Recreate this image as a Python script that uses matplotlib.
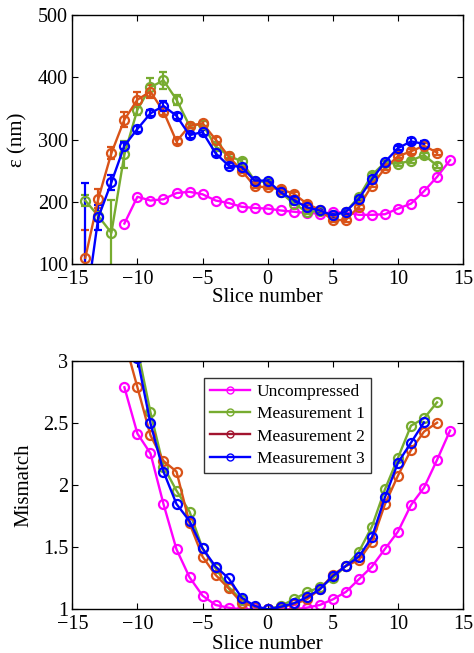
import matplotlib
matplotlib.use("Agg")
import matplotlib.pyplot as plt
from matplotlib.lines import Line2D

plt.rcParams['font.family'] = ['Liberation Serif', 'DejaVu Serif']
plt.rcParams['axes.unicode_minus'] = True

# ---- emittance per slice ----
x_unc = list(range(-11, 15))
eps_unc = [165, 208, 202, 204, 214, 216, 212, 202, 198, 192, 190, 189, 186, 184,
           182, 181, 183, 183, 179, 179, 180, 189, 197, 217, 240, 267]

x_m1 = list(range(-14, 14))
eps_m1 = [202, 177, 150, 276, 348, 384, 395, 364, 322, 325, 289, 274, 265, 234,
          231, 215, 197, 184, 185, 178, 184, 208, 243, 263, 261, 266, 275, 258]
err_m1 = [9, 8, 53, 21, 9, 15, 14, 8, 4, 4, 4, 4, 4, 3,
          3, 3, 3, 3, 3, 3, 3, 3, 3, 3, 3, 3, 4, 4]

x_m2 = list(range(-14, 14))
eps_m2 = [110, 205, 278, 332, 364, 377, 345, 297, 322, 326, 300, 273, 250, 225,
          223, 220, 213, 197, 187, 170, 171, 192, 226, 254, 273, 281, 290, 279]
err_m2 = [45, 15, 10, 12, 12, 10, 6, 5, 4, 4, 4, 4, 4, 3,
          3, 3, 3, 3, 3, 3, 3, 3, 3, 3, 3, 4, 4, 4]

x_m3 = list(range(-14, 13))
eps_m3 = [25, 175, 231, 290, 317, 342, 354, 338, 307, 312, 278, 258, 256, 234,
          234, 215, 203, 191, 186, 178, 184, 205, 236, 264, 286, 297, 293]
err_m3 = [205, 20, 12, 6, 5, 5, 8, 5, 4, 4, 4, 4, 4, 3,
          3, 3, 3, 3, 3, 3, 3, 3, 3, 3, 3, 5, 5]

# ---- mismatch per slice ----
mx_unc = list(range(-11, 15))
mis_unc = [2.788, 2.415, 2.256, 1.848, 1.483, 1.258, 1.110, 1.035, 1.013, 1.0,
           1.0, 1.0, 1.0, 1.0, 1.013, 1.035, 1.08, 1.14, 1.242, 1.344, 1.486,
           1.626, 1.84, 1.98, 2.203, 2.44]

mx_m1 = list(range(-10, 14))
mis_m1 = [3.1, 2.587, 2.15, 1.956, 1.787, 1.49, 1.33, 1.18, 1.075, 1.02, 1.0,
          1.027, 1.08, 1.137, 1.177, 1.25, 1.35, 1.464, 1.666, 1.966, 2.22,
          2.479, 2.538, 2.667]

mx_m2 = list(range(-11, 14))
mis_m2 = [3.17, 2.788, 2.401, 2.195, 2.109, 1.693, 1.424, 1.277, 1.169, 1.054,
          1.02, 1.0, 1.016, 1.04, 1.08, 1.161, 1.277, 1.349, 1.397, 1.542,
          1.846, 2.077, 2.283, 2.431, 2.503]

mx_m3 = list(range(-10, 13))
mis_m3 = [3.02, 2.498, 2.109, 1.848, 1.711, 1.491, 1.344, 1.25, 1.094, 1.027,
          1.0, 1.02, 1.048, 1.097, 1.161, 1.268, 1.349, 1.424, 1.58, 1.902,
          2.181, 2.342, 2.506]

labels = ['Uncompressed', 'Measurement 1', 'Measurement 2', 'Measurement 3']
c_unc = '#FF00FF'
c_m1 = '#77AC30'
c_m2 = '#D95319'
c_m2_legend = '#A2142F'
c_m3 = '#0000FF'

TICK_FS = 14.5
LABEL_FS = 15
LEGEND_FS = 12.5
line_kw = dict(marker='o', markersize=6.5, markerfacecolor='none',
               markeredgewidth=1.6, linewidth=1.7)

fig = plt.figure(figsize=(4.74, 6.53), dpi=100)
ax1 = fig.add_axes([0.1525, 0.5957, 0.8245, 0.3813])
ax2 = fig.add_axes([0.1525, 0.0669, 0.8245, 0.3803])

# upper panel: emittance with error bars
ax1.plot(x_unc, eps_unc, color=c_unc, **line_kw)
for xs, ys, es, c in [(x_m1, eps_m1, err_m1, c_m1),
                      (x_m2, eps_m2, err_m2, c_m2),
                      (x_m3, eps_m3, err_m3, c_m3)]:
    ax1.errorbar(xs, ys, yerr=es, color=c, capsize=3, elinewidth=1.6,
                 capthick=1.6, **line_kw)
ax1.set_xlim(-15, 15)
ax1.set_ylim(100, 500)
ax1.set_xticks(range(-15, 16, 5))
ax1.set_yticks(range(100, 501, 100))
ax1.set_ylabel('ε (nm)', fontsize=LABEL_FS)
ax1.set_xlabel('Slice number', fontsize=LABEL_FS)
ax1.yaxis.set_label_coords(-0.115, 0.5)
ax1.xaxis.set_label_coords(0.5, -0.098)

# lower panel: mismatch parameter
ax2.plot(mx_unc, mis_unc, color=c_unc, **line_kw)
ax2.plot(mx_m1, mis_m1, color=c_m1, **line_kw)
ax2.plot(mx_m2, mis_m2, color=c_m2, **line_kw)
ax2.plot(mx_m3, mis_m3, color=c_m3, **line_kw)
ax2.set_xlim(-15, 15)
ax2.set_ylim(1, 3)
ax2.set_xticks(range(-15, 16, 5))
ax2.set_yticks([1, 1.5, 2, 2.5, 3])
ax2.set_yticklabels(['1', '1.5', '2', '2.5', '3'])
ax2.set_ylabel('Mismatch', fontsize=LABEL_FS)
ax2.set_xlabel('Slice number', fontsize=LABEL_FS)
ax2.yaxis.set_label_coords(-0.100, 0.5)
ax2.xaxis.set_label_coords(0.5, -0.103)

handles = [Line2D([], [], color=c, marker='o', markersize=5,
                  markerfacecolor='none', markeredgewidth=1.0, linewidth=1.7)
           for c in [c_unc, c_m1, c_m2_legend, c_m3]]
leg = ax2.legend(handles, labels, loc='upper left',
                 bbox_to_anchor=(0.337, 0.932), fontsize=LEGEND_FS,
                 frameon=True, fancybox=False, edgecolor='black',
                 handlelength=2.3, handletextpad=0.4, borderpad=0.35,
                 labelspacing=0.35, borderaxespad=0)
leg.get_frame().set_linewidth(1.0)

for ax in (ax1, ax2):
    ax.tick_params(direction='in', top=True, right=True, length=4,
                   width=0.8, labelsize=TICK_FS)
    ax.tick_params(axis='x', pad=4)
    ax.tick_params(axis='y', pad=3)
    for s in ax.spines.values():
        s.set_linewidth(1.0)

fig.savefig('out.png', dpi=100)
